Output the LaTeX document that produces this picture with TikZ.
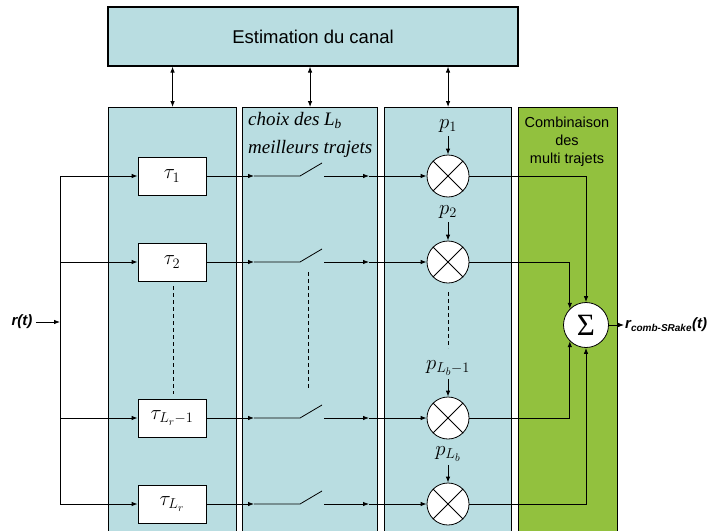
\documentclass[tikz,border=0pt]{standalone}
\usepackage{fontspec}
\setmainfont{Liberation Serif}
\setsansfont{Liberation Sans}
\usetikzlibrary{arrows.meta,shapes,positioning}
\definecolor{bleu}{RGB}{185,221,225}
\definecolor{vert}{RGB}{146,193,62}

\begin{document}
\begin{tikzpicture}[x=1pt, y=-1pt, >={Latex[length=6pt,width=4.5pt]},
  bloc/.style={draw, line width=1.1pt, fill=bleu},
  retard/.style={draw, fill=white, line width=0.8pt, minimum width=68pt, minimum height=38pt, font=\fontsize{21}{22}\selectfont},
  mult/.style={circle, draw, fill=white, line width=0.8pt, minimum size=42pt, inner sep=0pt},
  fil/.style={line width=0.8pt},
  pointille/.style={line width=0.7pt, dash pattern=on 4pt off 3pt}]
  \useasboundingbox (0,0) rectangle (711,530);

  % bloc d'estimation et colonnes
  \node[bloc, minimum width=410pt, minimum height=59pt, font=\sffamily\fontsize{18.5}{20}\selectfont] (estim) at (313,36.5) {Estimation du canal};
  \node[bloc, anchor=north west, minimum width=128pt, minimum height=440pt] (col1) at (108,107) {};
  \node[bloc, anchor=north west, minimum width=135pt, minimum height=440pt] (col2) at (242,107) {};
  \node[bloc, anchor=north west, minimum width=127pt, minimum height=440pt] (col3) at (384,107) {};
  \node[bloc, fill=vert, anchor=north west, minimum width=99pt, minimum height=440pt] (col4) at (518,107) {};

  \draw[fil,<->] (estim.south -| col1.north) -- (col1.north);
  \draw[fil,<->] (estim.south -| col2.north) -- (col2.north);
  \draw[fil,<->] (estim.south -| col3.north) -- (col3.north);

  \node[anchor=north west, align=left, inner sep=0pt, font=\itshape\fontsize{19}{28}\selectfont] (choix) at (248,112) {choix des \textit{L}\textsubscript{\textit{b}}\\meilleurs trajets};
  \node[align=center, font=\sffamily\fontsize{14.5}{18}\selectfont] (combi) at (567,142) {Combinaison\\des\\multi trajets};

  % les branches
  \foreach \i/\y/\t/\p in {1/176/1/1, 2/262/2/2, 3/418/{L_r-1}/{L_b-1}, 4/504/{L_r}/{L_b}} {
    \node[retard] (tau\i) at (172,\y) {$\tau_{\t}$};
    \node[mult] (m\i) at (448,\y) {};
    \draw[fil] (m\i.north west) -- (m\i.south east) (m\i.north east) -- (m\i.south west);
    \node[font=\fontsize{21}{22}\selectfont] (p\i) at (448,\y-50) {$p_{\p}$};
    \draw[fil,->] (p\i.south) -- (m\i.north);
    \coordinate (b\i) at (60,\y);
    \coordinate (e\i) at (254,\y);
    \coordinate (piv\i) at (300,\y);
    \coordinate (lame\i) at (322,\y-13);
    \coordinate (s\i) at (324,\y);
    \coordinate (r\i) at (369,\y);
    \draw[fil,->] (b\i) -- (tau\i.west);
    \draw[fil,->] (tau\i.east) -- (e\i);
    \draw[fil] (e\i) -- (piv\i) -- (lame\i);
    \draw[fil,->] (s\i) -- (r\i);
    \draw[fil,->] (r\i) -- (m\i.west);
  }

  \draw[pointille] (173,286) -- (173,394);
  \draw[pointille] (308,272) -- (308,388);
  \draw[pointille] (448,292) -- (448,348);

  % entree
  \node[font=\sffamily\bfseries\itshape\fontsize{15}{17}\selectfont] (rt) at (22,322) {r(t)};
  \coordinate (entree) at (60,322);
  \draw[fil,->] (rt.east) -- (entree);
  \draw[fil] (b1) -- (b4);

  % sommation
  \node[mult, minimum size=45pt, font=\fontsize{31}{31}\selectfont] (sig) at (586,325) {Σ};
  \draw[fil,->] (m1.east) -| (sig.north);
  \draw[fil,->] (m2.east) -| (sig.north west);
  \draw[fil,->] (m3.east) -| (sig.south west);
  \draw[fil,->] (m4.east) -| (sig.south);

  \node[anchor=west, inner sep=1pt, font=\sffamily\bfseries\itshape\fontsize{15}{18}\selectfont] (sortie) at (624,325) {r\textsubscript{\fontsize{10}{12}\selectfont comb-SRake}(t)};
  \draw[fil,->] (sig.east) -- (sortie.west);
\end{tikzpicture}
\end{document}
